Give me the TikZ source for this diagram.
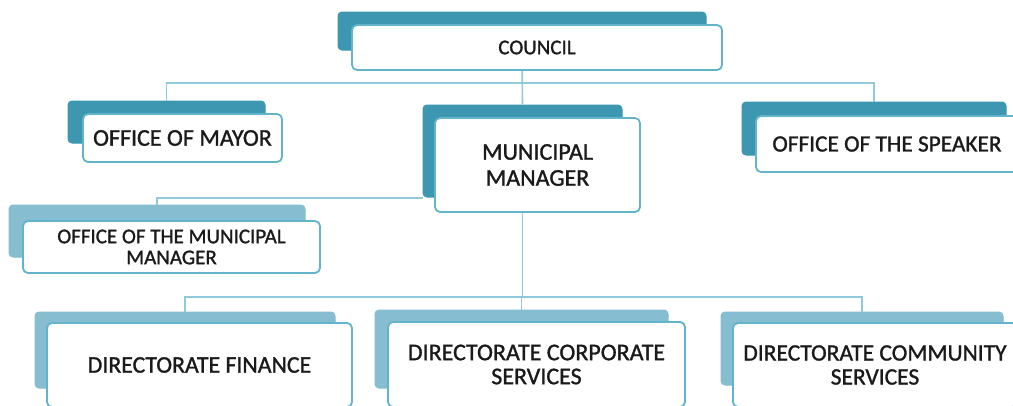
\documentclass[tikz,border=0pt]{standalone}
\usepackage{fontspec}
\setmainfont{Carlito}
\newfontfamily\heavy{Carlito}[FakeBold=1.2]
\definecolor{darkback}{HTML}{3E97B0}
\definecolor{lightback}{HTML}{86BDD0}
\definecolor{frontline}{HTML}{62B4CB}
\definecolor{linkline}{HTML}{8ECAD9}
\definecolor{txt}{HTML}{1A1A1A}
\tikzset{
  backD/.style={draw=darkback, fill=darkback, rounded corners=4pt, inner sep=0pt, line width=1pt},
  backL/.style={draw=lightback, fill=lightback, rounded corners=4pt, inner sep=0pt, line width=1pt},
  front/.style={draw=frontline, fill=white, rounded corners=5pt, inner sep=0pt, line width=1.8pt,
    text=txt, align=center},
  link/.style={draw=linkline, line width=1.6pt},
}
\begin{document}
\begin{tikzpicture}[x=1pt,y=-1pt]
\clip (0,0) rectangle (1013,405);
\fill[white] (0,0) rectangle (1013,405);
% back boxes
\node[backD, minimum width=368pt, minimum height=38pt] (cb) at (522,31) {};
\node[backD, minimum width=197pt, minimum height=42pt] (mb) at (166.5,122) {};
\node[backD, minimum width=199pt, minimum height=92pt] (mmb) at (522.5,151) {};
\node[backD, minimum width=264pt, minimum height=53pt] (sb) at (874,128.5) {};
\node[backL, minimum width=296pt, minimum height=52pt] (omb) at (157,231) {};
\node[backL, minimum width=300pt, minimum height=76pt] (fb) at (185,350) {};
\node[backL, minimum width=293pt, minimum height=78pt] (cpb) at (521.5,349) {};
\node[backL, minimum width=282pt, minimum height=73pt] (cmb) at (862,348.5) {};
% connectors
\coordinate (top) at (0,83);
\coordinate (bot) at (0,297);
\coordinate (mid) at (0,198);
\draw[link] (mb.north) -- (mb.north |- top) -- (sb.north |- top) -- (sb.north);
\draw[link] (cb.south) -- (mmb.north);
\draw[link] (mmb.south) -- (mmb.south |- bot);
\draw[link] (fb.north) -- (fb.north |- bot) -- (cmb.north |- bot) -- (cmb.north);
\draw[link] (cpb.north) -- (cpb.north |- bot);
\draw[link] (omb.north) -- (omb.north |- mid) -- (mmb.west |- mid);
% front boxes
\node[front, font=\heavy\fontsize{21}{22}\selectfont, minimum width=370pt, minimum height=45pt] (council) at (537,47.5) {COUNCIL};
\node[front, font=\heavy\fontsize{24}{25}\selectfont, minimum width=199pt, minimum height=48pt] (mayor) at (182.5,138) {OFFICE OF MAYOR};
\node[front, font=\heavy\fontsize{24}{26}\selectfont, minimum width=205pt, minimum height=94pt] (mm) at (537.5,165) {MUNICIPAL\\MANAGER};
\node[front, font=\heavy\fontsize{23.3}{25}\selectfont, minimum width=262pt, minimum height=56pt] (speaker) at (887,144) {OFFICE OF THE SPEAKER};
\node[front, font=\heavy\fontsize{21}{21}\selectfont, minimum width=297pt, minimum height=52pt] (omm) at (171.5,247) {OFFICE OF THE MUNICIPAL\\MANAGER};
\node[front, font=\heavy\fontsize{23.8}{25}\selectfont, minimum width=305pt, minimum height=84pt] (fin) at (199.5,365) {DIRECTORATE FINANCE};
\node[front, font=\heavy\fontsize{24}{24}\selectfont, minimum width=297pt, minimum height=85pt] (corp) at (536.5,364.5) {DIRECTORATE CORPORATE\\SERVICES};
\node[front, font=\heavy\fontsize{23.5}{24}\selectfont, minimum width=284pt, minimum height=84pt] (comm) at (875,365) {DIRECTORATE COMMUNITY\\SERVICES};
\end{tikzpicture}
\end{document}
